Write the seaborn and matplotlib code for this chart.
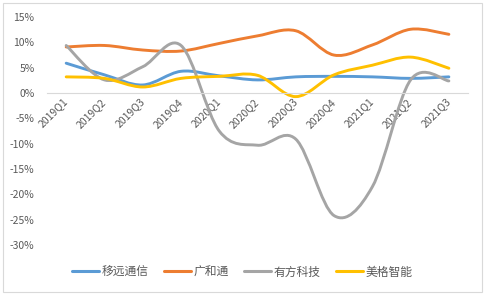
import matplotlib.pyplot as plt
import numpy as np
import pandas as pd
import seaborn as sns
from matplotlib.lines import Line2D
from matplotlib.patches import PathPatch, Rectangle
from matplotlib.path import Path

quarters = ['2019Q1', '2019Q2', '2019Q3', '2019Q4', '2020Q1', '2020Q2',
            '2020Q3', '2020Q4', '2021Q1', '2021Q2', '2021Q3']
yiyuan = [5.9, 3.6, 1.6, 4.3, 3.4, 2.6, 3.2, 3.3, 3.2, 2.9, 3.2]
guanghetong = [9.1, 9.4, 8.5, 8.3, 9.8, 11.3, 12.3, 7.5, 9.5, 12.6, 11.6]
youfang = [9.4, 2.6, 5.2, 9.4, -7.5, -10.3, -9.1, -24.2, -18.5, 2.6, 2.4]
meige = [3.2, 2.9, 1.2, 2.9, 3.3, 3.5, -0.7, 3.6, 5.5, 7.1, 4.9]
names = ['移远通信', '广和通', '有方科技', '美格智能']
colors = ['#5B9BD5', '#ED7D31', '#A5A5A5', '#FFC000']

df = pd.DataFrame({'quarter': quarters, names[0]: yiyuan, names[1]: guanghetong,
                   names[2]: youfang, names[3]: meige})

sns.set_theme(style='white')
plt.rcParams['font.family'] = ['Noto Sans CJK SC', 'DejaVu Sans']


def smooth_path(xs, ys):
    # excel-like smoothed line: cubic bezier through each point
    pts = np.column_stack([xs, ys]).astype(float)
    ext = np.vstack([pts[0], pts, pts[-1]])
    verts = [pts[0]]
    codes = [Path.MOVETO]
    for i in range(len(pts) - 1):
        p0, p1, p2, p3 = ext[i], ext[i + 1], ext[i + 2], ext[i + 3]
        verts += [p1 + (p2 - p0) / 6, p2 - (p3 - p1) / 6, p2]
        codes += [Path.CURVE4] * 3
    return Path(verts, codes)


fig = plt.figure(figsize=(4.85, 2.95), dpi=100)
ax = fig.add_axes([0.097, 0.1695, 0.868, 0.7725])

x = np.arange(len(quarters))
for name, c in zip(names, colors):
    patch = PathPatch(smooth_path(x, df[name]), facecolor='none', edgecolor=c,
                      lw=2.1, capstyle='round', joinstyle='round')
    ax.add_patch(patch)

# 横轴放在0%处
for s in ['top', 'right', 'left']:
    ax.spines[s].set_visible(False)
ax.spines['bottom'].set_position(('data', 0))
ax.spines['bottom'].set_color('#D9D9D9')
ax.spines['bottom'].set_linewidth(0.8)

ax.set_xlim(-0.5, len(quarters) - 0.5)
ax.set_ylim(-30, 15)
ax.set_yticks(range(-30, 16, 5))
ax.set_yticklabels([f'{v}%' for v in range(-30, 16, 5)], fontsize=7.5, color='#595959')
ax.set_xticks(x)
ax.set_xticklabels(quarters, fontsize=7.5, color='#595959', rotation=45,
                   ha='right', va='center', rotation_mode='anchor')
ax.tick_params(axis='y', length=0, pad=9)
ax.tick_params(axis='x', length=0, pad=5)

handles = [Line2D([], [], color=c, lw=2.2) for c in colors]
fig.legend(handles, names, loc='center', bbox_to_anchor=(0.5, 0.078), ncol=4,
           frameon=False, fontsize=8.5, handlelength=2.3, handletextpad=0.2,
           columnspacing=1.3, labelcolor='#595959')

fig.patches.append(Rectangle((0.006, 0.01), 0.988, 0.98, transform=fig.transFigure,
                             fill=False, edgecolor='#D9D9D9', lw=0.8))

fig.savefig('out.png', dpi=100)
